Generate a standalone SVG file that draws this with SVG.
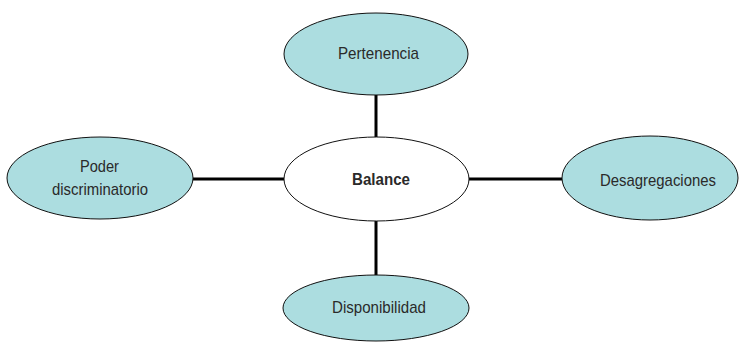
<svg xmlns="http://www.w3.org/2000/svg" width="739" height="342" viewBox="0 0 739 342">
<style>
.n{fill:#acdde0;stroke:#111;stroke-width:1}
.c{fill:#fff;stroke:#111;stroke-width:1}
.t{font-family:"Liberation Sans",Arial,sans-serif;font-size:17px;fill:#2a2a2a;text-anchor:middle}
.b{font-weight:bold}
.e{stroke:#000;stroke-width:3;fill:none}
</style>
<rect width="739" height="342" fill="#fff"/>
<g id="connectors">
<line class="e" x1="376" y1="95" x2="376" y2="137"/>
<line class="e" x1="193" y1="179" x2="284" y2="179"/>
<line class="e" x1="469" y1="179" x2="562" y2="179"/>
<line class="e" x1="376" y1="221" x2="376" y2="275"/>
</g>
<g id="pertenencia">
<ellipse class="n" cx="376" cy="54" rx="92" ry="41"/>
<text class="t" x="378.5" y="59" textLength="81" lengthAdjust="spacingAndGlyphs">Pertenencia</text>
</g>
<g id="balance">
<ellipse class="c" cx="376.5" cy="179" rx="92.5" ry="42"/>
<text class="t b" x="381" y="185" textLength="58" lengthAdjust="spacingAndGlyphs">Balance</text>
</g>
<g id="poder">
<ellipse class="n" cx="100" cy="178" rx="93" ry="41"/>
<text class="t" x="99.5" y="172" textLength="39" lengthAdjust="spacingAndGlyphs">Poder</text>
<text class="t" x="100" y="195" textLength="96" lengthAdjust="spacingAndGlyphs">discriminatorio</text>
</g>
<g id="desagregaciones">
<ellipse class="n" cx="650" cy="178" rx="88" ry="42"/>
<text class="t" x="658" y="186" textLength="116" lengthAdjust="spacingAndGlyphs">Desagregaciones</text>
</g>
<g id="disponibilidad">
<ellipse class="n" cx="376" cy="308" rx="93" ry="33"/>
<text class="t" x="379" y="313" textLength="94" lengthAdjust="spacingAndGlyphs">Disponibilidad</text>
</g>
</svg>
